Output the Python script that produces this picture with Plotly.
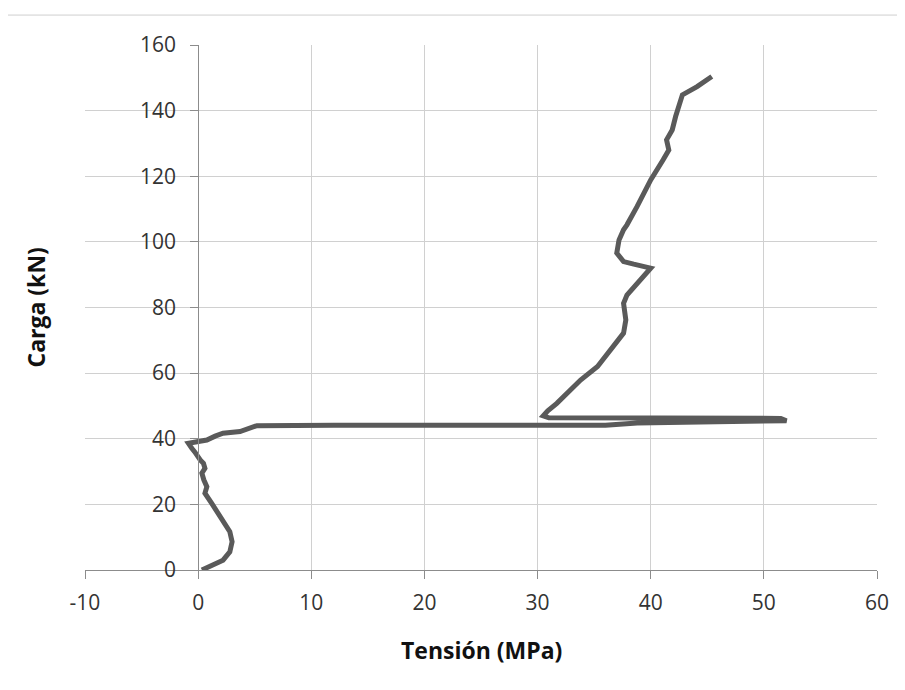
import plotly.graph_objects as go

# Tensión (MPa) vs Carga (kN)
tension = [0.33, 1.2, 2.2, 2.8, 3.0, 2.8, 2.4, 1.95, 1.5, 1.2, 0.6, 0.77, 0.5, 0.33, 0.6, 0.47, 0.2, 0.03,
           -0.3, -0.56, -0.86, -0.1, 0.77, 1.5, 2.2, 3.7, 4.5, 5.2, 12.0, 20.0, 30.0, 36.0, 38.8, 43.0, 47.0,
           51.0, 52.0, 51.5, 45.0, 38.0, 33.0, 31.0, 30.5, 30.9, 31.7, 32.9, 33.8, 35.3, 36.7, 37.6,
           37.8, 37.6, 37.9, 39.1, 40.0, 38.5, 37.6, 37.0, 37.2, 37.6, 37.9, 38.8, 40.0, 41.1,
           41.6, 41.4, 41.9, 42.2, 42.6, 42.8, 44.1, 45.4]
carga = [0.0, 1.5, 3.0, 5.5, 8.6, 11.7, 14.0, 16.3, 18.5, 20.3, 23.4, 25.4, 27.5, 29.5, 31.0, 32.5, 33.5, 34.5,
         36.0, 37.1, 38.6, 39.1, 39.6, 40.8, 41.7, 42.2, 43.0, 44.0, 44.1, 44.1, 44.1, 44.1, 44.8, 45.0, 45.0,
         45.3, 45.5, 46.2, 46.3, 46.3, 46.3, 46.4, 47.0, 48.5, 50.8, 54.9, 57.9, 62.0, 68.1, 72.2,
         76.2, 81.3, 83.8, 88.4, 92.0, 93.2, 94.0, 96.6, 100.6, 103.7, 105.2, 110.8, 118.9, 125.0,
         128.0, 131.1, 134.1, 138.2, 142.3, 144.8, 147.3, 150.4]

x_ticks = [-10, 0, 10, 20, 30, 40, 50, 60]
y_ticks = [0, 20, 40, 60, 80, 100, 120, 140, 160]
x_title = "Tensión (MPa)"
y_title = "Carga (kN)"

font_family = "Open Sans, sans-serif"
x_range = [-10, 60]

fig = go.Figure()
fig.add_trace(go.Scatter(
    x=tension, y=carga, mode="lines",
    line=dict(color="#5a5a5a", width=5),
    showlegend=False, hoverinfo="skip",
))

fig.update_layout(
    width=905, height=690,
    margin=dict(l=77, r=36, t=37, b=128),
    paper_bgcolor="white", plot_bgcolor="white",
    font=dict(family=font_family, size=21, color="#333333"),
    xaxis=dict(
        range=x_range, tickvals=x_ticks, ticktext=[str(v) for v in x_ticks],
        showgrid=True, gridcolor="#d0d0d0", gridwidth=1,
        zeroline=False, showline=True, linecolor="#8c8c8c", linewidth=1,
        ticks="outside", ticklen=8, tickcolor="#8c8c8c",
        ticklabelstandoff=6,
        fixedrange=True,
    ),
    yaxis=dict(
        range=[0, 160], tickvals=y_ticks, ticktext=[str(v) for v in y_ticks],
        anchor="free", position=(0 - x_range[0]) / (x_range[1] - x_range[0]),
        showgrid=True, gridcolor="#d0d0d0", gridwidth=1,
        zeroline=False, showline=True, linecolor="#8c8c8c", linewidth=1,
        ticks="outside", ticklen=8, tickcolor="#8c8c8c",
        ticklabelstandoff=10,
        fixedrange=True,
    ),
    annotations=[
        dict(text="<b>" + x_title + "</b>", xref="paper", yref="paper", x=0.5, y=-0.152,
             xanchor="center", yanchor="middle", showarrow=False,
             font=dict(size=23, color="#111111")),
        dict(text="<b>" + y_title + "</b>", xref="paper", yref="paper", x=-0.0631, y=0.5,
             xanchor="center", yanchor="middle", showarrow=False, textangle=-90,
             font=dict(size=23, color="#111111")),
    ],
    shapes=[dict(
        type="rect", xref="paper", yref="paper",
        x0=-0.0997, x1=1.2, y0=-0.4, y1=1.057,
        line=dict(color="#cfcfcf", width=1), fillcolor="rgba(0,0,0,0)", layer="below",
    )],
)

fig.write_html("out.html")
